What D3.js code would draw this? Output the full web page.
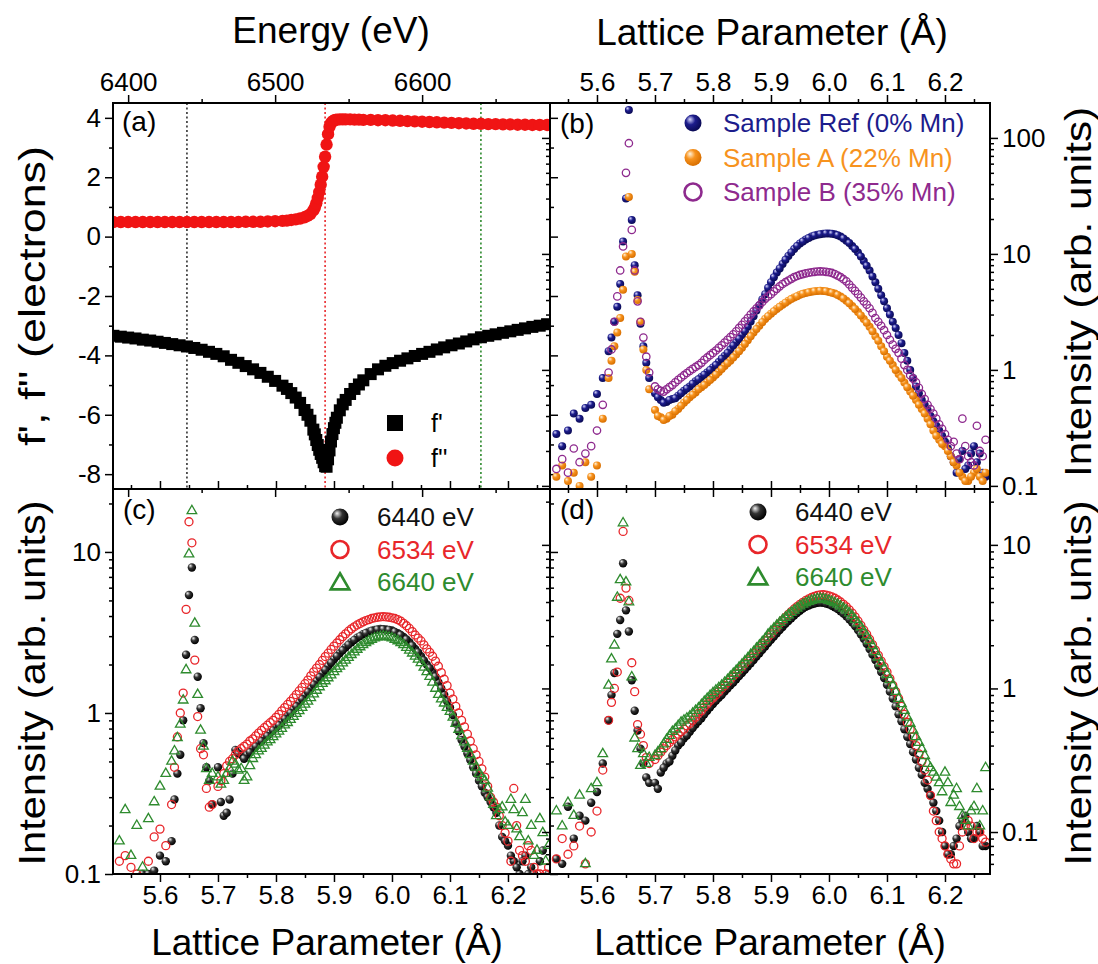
<!DOCTYPE html>
<html lang="en">
<head>
<meta charset="UTF-8">
<title>Anomalous diffraction panels</title>
<script src="https://d3js.org/d3.v7.min.js"></script>
<style>
  body { margin: 0; background: #fff; }
</style>
</head>
<body>
<div id="chart"></div>
<script>
// ---------- data ----------
// (a) anomalous scattering factors vs energy
const energy = [6390,6395,6400,6405,6410,6415,6420,6425,6430,6435,6440,6445,6450,6455,6460,6465,6470,6475,6480,6485,6490,6495,6500,6505,
  6508,6511,6514,6517,6520,6522,6524,6526,6527,6528,6529,6530,6531,6532,6533,6534,6535,6536,6537,6538,6539,6540,6541,6542,
  6544,6546,6548,6551,6554,6557,6560,
  6565,6570,6575,6580,6585,6590,6595,6600,6605,6610,6615,6620,6625,6630,6635,6640,6645,6650,6655,6660,6665,6670,6675,6680,6685];
const fPrime = [-3.34,-3.37,-3.40,-3.43,-3.47,-3.50,-3.54,-3.58,-3.62,-3.66,-3.70,-3.75,-3.81,-3.88,-3.95,-4.03,-4.15,-4.25,-4.36,-4.47,-4.59,-4.72,-4.86,-5.02,
  -5.13,-5.27,-5.42,-5.60,-5.84,-6.00,-6.20,-6.50,-6.66,-6.85,-7.02,-7.18,-7.32,-7.45,-7.60,-7.73,-7.75,-7.50,-7.20,-6.90,-6.65,-6.45,-6.27,-6.10,
  -5.85,-5.65,-5.50,-5.30,-5.13,-4.98,-4.84,
  -4.63,-4.47,-4.35,-4.26,-4.18,-4.10,-4.02,-3.95,-3.88,-3.80,-3.73,-3.66,-3.60,-3.53,-3.46,-3.39,-3.34,-3.29,-3.24,-3.19,-3.14,-3.09,-3.04,-3.00,-2.95];
const fDouble = [0.49,0.49,0.49,0.49,0.49,0.49,0.49,0.49,0.49,0.49,0.49,0.49,0.49,0.49,0.49,0.49,0.49,0.49,0.50,0.50,0.50,0.51,0.52,0.53,
  0.54,0.56,0.58,0.61,0.65,0.70,0.76,0.88,0.98,1.12,1.30,1.50,1.75,2.02,2.35,2.69,3.10,3.45,3.70,3.82,3.88,3.91,3.93,3.94,
  3.95,3.95,3.95,3.95,3.94,3.94,3.93,
  3.93,3.92,3.92,3.91,3.90,3.89,3.88,3.87,3.86,3.85,3.84,3.83,3.82,3.81,3.80,3.80,3.79,3.79,3.78,3.78,3.77,3.77,3.76,3.76,3.76];
const markerEnergies = [6440, 6534, 6640];

// (b)-(d) intensity vs lattice parameter, main grid
const latGrid = [5.53,5.54,5.55,5.56,5.57,5.58,5.59,5.60,5.61,5.62,
  5.625,5.63,5.635,5.64,5.645,5.65,5.655,5.66,5.665,5.67,5.675,5.68,5.685,5.69,
  5.70,5.71,5.72,5.73,5.74,5.75,5.76,5.77,5.78,5.79,
  5.80,5.81,5.82,5.83,5.84,5.85,5.86,5.87,5.88,5.89,
  5.90,5.91,5.92,5.93,5.94,5.95,5.96,5.97,5.98,5.99,
  6.00,6.01,6.02,6.03,6.04,6.05,6.06,6.07,6.08,6.09,
  6.10,6.11,6.12,6.13,6.14,6.15,6.16,6.17,6.18,6.19,
  6.20,6.21,6.22,6.23,6.24,6.25,6.26,6.27];
// in-between points of the broad peak
const latMid = [5.705,5.715,5.725,5.735,5.745,5.755,5.765,5.775,5.785,5.795,
  5.805,5.815,5.825,5.835,5.845,5.855,5.865,5.875,5.885,5.895,
  5.905,5.915,5.925,5.935,5.945,5.955,5.965,5.975,5.985,5.995,
  6.005,6.015,6.025,6.035,6.045,6.055,6.065,6.075,6.085,6.095,
  6.105,6.115,6.125,6.135,6.145,6.155,6.165,6.175,6.185,6.195,
  6.205,6.215,6.225,6.235,6.245,6.255,6.265];

const sampleRef = [0.28,0.22,0.30,0.42,0.38,0.47,0.50,0.62,0.85,1.45,
  1.9,2.6,3.5,5.5,12.8,30,174,19.6,8.0,4.4,2.5,1.6,1.15,0.85,
  0.63,0.55,0.53,0.56,0.60,0.66,0.72,0.80,0.87,0.95,
  1.05,1.17,1.32,1.50,1.72,2.00,2.35,2.90,3.60,4.50,
  5.7,6.9,8.2,9.6,11.0,12.3,13.3,14.1,14.6,14.9,
  15.0,14.8,14.1,13.0,11.7,10.3,8.7,7.2,5.7,4.4,
  3.4,2.6,2.0,1.4,1.0,0.72,0.55,0.45,0.36,0.30,
  0.24,0.18,0.13,0.20,0.15,0.22,0.19,0.12];
const sampleRefMid = [0.58,0.52,0.55,0.57,0.63,0.69,0.76,0.83,0.91,1.0,
  1.10,1.25,1.40,1.62,1.85,2.15,2.62,3.25,4.05,5.1,
  6.3,7.5,8.9,10.3,11.7,12.8,13.7,14.4,14.8,15.0,
  14.9,14.5,13.6,12.4,11.0,9.5,7.9,6.4,5.0,3.9,
  3.0,2.3,1.7,1.2,0.85,0.63,0.50,0.40,0.33,0.27,
  0.21,0.16,0.17,0.14,0.19,0.16,0.13];
const sampleA = [0.12,0.15,0.11,0.13,0.10,0.16,0.12,0.15,0.38,0.85,
  1.2,1.6,2.1,2.8,4.9,9.5,31,10,7.0,4.0,2.6,1.5,1.0,0.68,
  0.45,0.39,0.38,0.41,0.46,0.52,0.58,0.64,0.71,0.78,
  0.86,0.96,1.08,1.20,1.36,1.55,1.80,2.10,2.40,2.75,
  3.05,3.35,3.65,3.95,4.20,4.45,4.60,4.72,4.80,4.80,
  4.70,4.55,4.30,3.95,3.55,3.15,2.75,2.35,1.95,1.60,
  1.30,1.10,0.92,0.78,0.65,0.55,0.46,0.38,0.30,0.25,
  0.22,0.18,0.15,0.12,0.11,0.13,0.12,0.13];
const sampleAMid = [0.40,0.37,0.40,0.44,0.49,0.55,0.61,0.68,0.74,0.82,
  0.91,1.02,1.14,1.28,1.45,1.67,1.95,2.25,2.58,2.90,
  3.20,3.50,3.80,4.08,4.32,4.53,4.66,4.76,4.82,4.76,
  4.63,4.43,4.12,3.75,3.35,2.95,2.55,2.15,1.78,1.45,
  1.20,1.00,0.85,0.71,0.60,0.50,0.42,0.34,0.27,0.23,
  0.20,0.16,0.13,0.11,0.12,0.14,0.11];
const sampleB = [0.14,0.17,0.13,0.21,0.16,0.19,0.22,0.30,0.50,0.95,
  1.5,2.6,4.3,7.2,11.6,50,90,16.1,7.2,3.9,2.6,1.9,1.3,0.95,
  0.72,0.66,0.68,0.74,0.82,0.90,0.98,1.06,1.15,1.28,
  1.40,1.55,1.72,1.92,2.15,2.45,2.80,3.20,3.60,4.10,
  4.50,5.00,5.50,5.90,6.30,6.60,6.80,6.95,7.05,7.05,
  6.95,6.70,6.30,5.80,5.10,4.50,3.90,3.40,2.80,2.40,
  2.00,1.65,1.40,1.10,0.90,0.78,0.62,0.50,0.42,0.34,
  0.28,0.22,0.19,0.38,0.18,0.15,0.20,0.25];
const sampleBMid = [0.68,0.65,0.71,0.78,0.86,0.94,1.02,1.10,1.22,1.34,
  1.47,1.63,1.82,2.03,2.30,2.62,3.00,3.40,3.85,4.30,
  4.75,5.25,5.70,6.10,6.45,6.70,6.88,7.00,7.08,7.00,
  6.85,6.50,6.05,5.45,4.80,4.20,3.65,3.10,2.60,2.20,
  1.82,1.52,1.25,1.00,0.84,0.70,0.56,0.46,0.38,0.31,
  0.25,0.24,0.17,0.22,0.16,0.33,0.18];

const c6440 = [0.09,0.085,0.095,0.09,0.10,0.10,0.105,0.13,0.12,0.16,
  0.29,0.42,0.55,0.90,2.3,5.4,8.0,2.84,1.68,1.07,0.65,0.46,0.38,0.27,
  0.46,0.23,0.29,0.59,0.55,0.55,0.60,0.65,0.70,0.75,
  0.81,0.88,0.96,1.05,1.16,1.28,1.42,1.58,1.76,1.95,
  2.15,2.35,2.55,2.75,2.93,3.08,3.20,3.28,3.32,3.30,
  3.25,3.13,2.97,2.75,2.50,2.25,2.00,1.80,1.55,1.30,
  1.08,0.86,0.68,0.56,0.46,0.38,0.32,0.28,0.24,0.17,
  0.15,0.12,0.10,0.13,0.11,0.09,0.14,0.10];
const c6440Mid = [0.28,0.24,0.42,0.56,0.52,0.57,0.62,0.67,0.72,0.78,
  0.84,0.92,1.0,1.10,1.22,1.35,1.50,1.67,1.85,2.05,
  2.25,2.45,2.65,2.84,3.0,3.14,3.24,3.30,3.31,3.28,
  3.19,3.05,2.86,2.62,2.38,2.12,1.90,1.68,1.42,1.18,
  0.97,0.77,0.62,0.51,0.42,0.35,0.30,0.26,0.20,0.16,
  0.13,0.11,0.12,0.10,0.10,0.12,0.09];
const c6534 = [0.12,0.13,0.11,0.10,0.09,0.12,0.17,0.19,0.15,0.27,
  0.46,0.71,1.0,1.33,4.4,15.4,11.4,2.13,0.95,0.60,0.55,0.34,0.26,0.27,
  0.35,0.42,0.50,0.55,0.60,0.64,0.69,0.75,0.81,0.87,
  0.94,1.03,1.13,1.24,1.37,1.52,1.70,1.90,2.12,2.35,
  2.60,2.85,3.10,3.33,3.52,3.68,3.80,3.90,3.95,3.95,
  3.90,3.80,3.60,3.35,3.05,2.80,2.50,2.25,1.95,1.62,
  1.33,1.10,0.90,0.74,0.60,0.50,0.40,0.30,0.26,0.20,
  0.16,0.34,0.14,0.12,0.14,0.10,0.09,0.11];
const c6534Mid = [0.38,0.47,0.52,0.58,0.62,0.67,0.72,0.78,0.84,0.90,
  0.98,1.08,1.18,1.30,1.44,1.60,1.80,2.0,2.24,2.48,
  2.72,2.98,3.22,3.43,3.60,3.75,3.86,3.93,3.97,3.93,
  3.86,3.72,3.48,3.20,2.92,2.65,2.38,2.10,1.78,1.48,
  1.22,1.0,0.82,0.67,0.55,0.45,0.35,0.28,0.23,0.18,
  0.12,0.20,0.13,0.15,0.11,0.10,0.10];
const c6640 = [0.16,0.25,0.13,0.20,0.11,0.22,0.28,0.35,0.42,0.50,
  0.58,0.70,0.85,1.2,1.85,9.7,18,3.6,1.3,0.78,0.62,0.45,0.38,0.42,
  0.40,0.38,0.45,0.48,0.45,0.40,0.52,0.58,0.63,0.68,
  0.74,0.80,0.87,0.95,1.03,1.13,1.24,1.38,1.52,1.65,
  1.80,1.95,2.12,2.30,2.48,2.65,2.80,2.92,2.98,2.98,
  2.92,2.80,2.65,2.45,2.25,2.05,1.80,1.55,1.30,1.15,
  1.02,0.86,0.72,0.60,0.50,0.42,0.38,0.30,0.23,0.26,
  0.20,0.25,0.17,0.29,0.20,0.14,0.18,0.15];
const c6640Mid = [0.36,0.42,0.50,0.44,0.38,0.47,0.55,0.60,0.66,0.71,
  0.77,0.84,0.91,0.99,1.08,1.18,1.31,1.45,1.58,1.72,
  1.88,2.04,2.21,2.39,2.57,2.73,2.86,2.95,3.0,2.95,
  2.86,2.73,2.55,2.35,2.15,1.92,1.68,1.42,1.22,1.08,
  0.94,0.79,0.66,0.55,0.46,0.40,0.34,0.27,0.25,0.21,
  0.29,0.19,0.24,0.16,0.13,0.22,0.12];

const d6440 = [0.065,0.06,0.15,0.09,0.13,0.12,0.16,0.19,0.30,0.60,
  0.90,1.28,2.4,3.0,7.45,3.5,2.49,1.14,0.70,0.51,0.38,0.30,0.24,0.22,
  0.22,0.26,0.30,0.34,0.40,0.45,0.50,0.56,0.62,0.70,
  0.78,0.86,0.95,1.05,1.16,1.28,1.42,1.58,1.76,1.96,
  2.18,2.42,2.68,2.95,3.22,3.48,3.70,3.85,3.95,3.95,
  3.85,3.68,3.45,3.18,2.88,2.55,2.22,1.88,1.58,1.30,
  1.06,0.85,0.66,0.52,0.41,0.32,0.25,0.20,0.16,0.12,
  0.08,0.07,0.09,0.12,0.10,0.09,0.10,0.08];
const d6440Mid = [0.20,0.28,0.31,0.37,0.42,0.47,0.53,0.59,0.66,0.74,
  0.82,0.90,1.0,1.10,1.22,1.35,1.50,1.67,1.86,2.07,
  2.30,2.55,2.82,3.08,3.35,3.60,3.78,3.90,3.96,3.90,
  3.77,3.57,3.32,3.03,2.72,2.38,2.05,1.72,1.44,1.18,
  0.95,0.75,0.59,0.46,0.36,0.28,0.22,0.18,0.14,0.10,
  0.07,0.08,0.11,0.13,0.09,0.11,0.08];
const d6534 = [0.065,0.09,0.07,0.08,0.11,0.06,0.10,0.14,0.27,0.60,
  0.80,1.0,1.3,4.25,12.4,5.0,4.1,1.51,0.95,0.56,0.48,0.40,0.33,0.30,
  0.32,0.36,0.40,0.44,0.48,0.52,0.57,0.63,0.70,0.78,
  0.86,0.95,1.05,1.16,1.28,1.42,1.58,1.75,1.95,2.16,
  2.40,2.68,2.98,3.28,3.58,3.85,4.10,4.30,4.45,4.50,
  4.42,4.25,4.00,3.70,3.35,2.95,2.55,2.20,1.85,1.55,
  1.30,1.05,0.85,0.66,0.52,0.40,0.31,0.23,0.14,0.10,
  0.08,0.065,0.06,0.10,0.12,0.09,0.10,0.085];
const d6534Mid = [0.34,0.38,0.42,0.46,0.50,0.55,0.60,0.67,0.74,0.82,
  0.90,1.0,1.10,1.22,1.35,1.50,1.66,1.85,2.05,2.28,
  2.54,2.83,3.13,3.43,3.72,3.98,4.20,4.38,4.48,4.47,
  4.34,4.13,3.85,3.53,3.15,2.75,2.38,2.02,1.70,1.42,
  1.17,0.95,0.75,0.58,0.46,0.35,0.27,0.18,0.12,0.09,
  0.07,0.06,0.08,0.11,0.11,0.10,0.09];
const d6640 = [0.14,0.11,0.16,0.13,0.18,0.06,0.20,0.22,0.35,1.05,
  1.6,2.0,4.3,5.7,14.2,5.5,4.0,1.2,0.45,0.38,0.29,0.35,0.30,0.33,
  0.34,0.38,0.44,0.50,0.55,0.60,0.64,0.70,0.77,0.85,
  0.93,1.01,1.10,1.21,1.33,1.47,1.63,1.80,2.00,2.22,
  2.50,2.75,3.00,3.25,3.50,3.75,3.95,4.10,4.20,4.20,
  4.10,3.95,3.75,3.50,3.20,2.85,2.50,2.15,1.80,1.50,
  1.25,1.05,0.85,0.70,0.57,0.46,0.38,0.30,0.26,0.22,
  0.26,0.16,0.20,0.13,0.11,0.15,0.11,0.28];
const d6640Mid = [0.36,0.41,0.47,0.52,0.58,0.62,0.67,0.73,0.81,0.89,
  0.97,1.05,1.15,1.27,1.40,1.55,1.72,1.90,2.11,2.38,
  2.62,2.88,3.12,3.38,3.62,3.85,4.02,4.15,4.22,4.15,
  4.02,3.85,3.62,3.35,3.02,2.68,2.32,1.98,1.65,1.38,
  1.15,0.95,0.78,0.63,0.51,0.42,0.34,0.28,0.24,0.19,
  0.22,0.18,0.15,0.12,0.14,0.20,0.14];

// ticks and labels
const energyTicks = [6400, 6500, 6600];
const energyMinor = [6450, 6550, 6650];
const fTicks = [-8, -6, -4, -2, 0, 2, 4];
const fMinor = [-7, -5, -3, -1, 1, 3];
const latTicks = [5.6, 5.7, 5.8, 5.9, 6.0, 6.1, 6.2];
const latMinor = [5.55, 5.65, 5.75, 5.85, 5.95, 6.05, 6.15, 6.25];
const logTicks = [0.1, 1, 10, 100];
const sampleNames = ["Sample Ref (0% Mn)", "Sample A (22% Mn)", "Sample B (35% Mn)"];
const energyNames = ["6440 eV", "6534 eV", "6640 eV"];

// ---------- layout ----------
const FONT = "'Liberation Sans', Arial, sans-serif";
const navy = "#1c1c8c", orange = "#f7931e", purple = "#8e2a8e";
const red = "#e8262a", green = "#2e8b2e";
const pxPerA = 580;

const panels = {
  a: { x: 113, y: 103, w: 437, h: 386 },
  b: { x: 550, y: 103, w: 440, h: 386 },
  c: { x: 113, y: 489, w: 437, h: 385 },
  d: { x: 550, y: 489, w: 440, h: 385 }
};

const svg = d3.select("#chart").append("svg")
  .attr("width", 1098).attr("height", 964)
  .style("font-family", FONT);

const defs = svg.append("defs");
function ball(id, hi, mid, lo) {
  const gr = defs.append("radialGradient").attr("id", id)
    .attr("cx", "40%").attr("cy", "38%").attr("r", "62%")
    .attr("fx", "32%").attr("fy", "28%");
  gr.append("stop").attr("offset", "0%").attr("stop-color", hi);
  gr.append("stop").attr("offset", "45%").attr("stop-color", mid);
  gr.append("stop").attr("offset", "100%").attr("stop-color", lo);
}
ball("ballNavy", "#d8d8ff", navy, "#0a0a55");
ball("ballOrange", "#fff3dd", orange, "#d86f00");
ball("ballBlack", "#f4f4f4", "#333", "#000");

Object.entries(panels).forEach(([k, p]) => {
  defs.append("clipPath").attr("id", "clip-" + k)
    .append("rect").attr("width", p.w).attr("height", p.h);
});

function panelGroup(k) {
  const p = panels[k];
  return svg.append("g").attr("transform", `translate(${p.x},${p.y})`);
}

// draws major + minor ticks on one side
function sideAxis(g, p, side, scale, majors, minors, fmt) {
  const make = { top: d3.axisTop, bottom: d3.axisBottom, left: d3.axisLeft, right: d3.axisRight }[side];
  const t = side === "bottom" ? `translate(0,${p.h})` : side === "right" ? `translate(${p.w},0)` : null;
  [[minors, 4, null], [majors, 8, fmt]].forEach(([vals, len, f]) => {
    const ax = make(scale).tickValues(vals).tickSizeInner(len).tickSizeOuter(0).tickPadding(4)
      .tickFormat(f || (() => ""));
    const a = g.append("g").attr("transform", t).call(ax);
    a.select(".domain").remove();
    a.selectAll("line").attr("stroke", "#000").attr("stroke-width", 1.5);
    a.selectAll("text").attr("font-size", 26).attr("font-family", FONT).attr("fill", "#000");
  });
}

function logMinors(scale) {
  const [lo, hi] = scale.domain();
  const out = [];
  for (let e = -2; e <= 2; e++) {
    for (let m = 2; m <= 9; m++) {
      const v = m * Math.pow(10, e);
      if (v > lo && v < hi) out.push(v);
    }
  }
  return out;
}

const latFmt = d3.format(".1f");
const logFmt = d => d < 1 ? "0.1" : String(d);

function frame(g, p) {
  g.append("rect").attr("width", p.w).attr("height", p.h)
    .attr("fill", "none").attr("stroke", "#000").attr("stroke-width", 2);
}

function label(g, txt, x, y) {
  g.append("text").attr("x", x).attr("y", y).attr("font-size", 28).text(txt);
}

// ---------- panel (a) ----------
{
  const p = panels.a;
  const g = panelGroup("a");
  const x = d3.scaleLinear().domain([6389.7, 6687]).range([0, p.w]);
  const y = d3.scaleLinear().domain([-8.5, 4.5]).range([p.h, 0]);
  const body = g.append("g").attr("clip-path", "url(#clip-a)");

  body.selectAll("line.mark").data(markerEnergies).join("line")
    .attr("class", "mark")
    .attr("x1", d => x(d)).attr("x2", d => x(d))
    .attr("y1", 0).attr("y2", p.h)
    .attr("stroke", (d, i) => ["#333", red, green][i])
    .attr("stroke-width", 1.6).attr("stroke-dasharray", "2,2.5");

  const pts = energy.map((e, i) => ({ e, fp: fPrime[i], fpp: fDouble[i] }));
  body.selectAll("rect.fp").data(pts).join("rect")
    .attr("class", "fp")
    .attr("x", d => x(d.e) - 6).attr("y", d => y(d.fp) - 6)
    .attr("width", 12).attr("height", 12).attr("fill", "#000");
  body.selectAll("circle.fpp").data(pts).join("circle")
    .attr("class", "fpp")
    .attr("cx", d => x(d.e)).attr("cy", d => y(d.fpp)).attr("r", 6.2)
    .attr("fill", "#f01414");

  sideAxis(g, p, "top", x, energyTicks, energyMinor, d => String(d));
  sideAxis(g, p, "bottom", x, energyTicks, energyMinor, null);
  sideAxis(g, p, "left", y, fTicks, fMinor, d => String(d));
  sideAxis(g, p, "right", y, fTicks, fMinor, null);
  frame(g, p);
  label(g, "(a)", 9, 28);

  // legend
  g.append("rect").attr("x", 274).attr("y", 312).attr("width", 16).attr("height", 16).attr("fill", "#000");
  g.append("circle").attr("cx", 282).attr("cy", 355).attr("r", 8.5).attr("fill", "#f01414");
  g.append("text").attr("x", 318).attr("y", 329).attr("font-size", 25).text("f'");
  g.append("text").attr("x", 318).attr("y", 364).attr("font-size", 25).text("f''");
}

// ---------- intensity panels ----------
function intensityPanel(k, yDomain, series, names, colors, legend, yLabelSide, xLabelSide, tag) {
  const p = panels[k];
  const g = panelGroup(k);
  const x = d3.scaleLinear().domain([5.519, 5.519 + p.w / pxPerA]).range([0, p.w]);
  const y = d3.scaleLog().domain(yDomain).range([p.h, 0]);
  const body = g.append("g").attr("clip-path", `url(#clip-${k})`);

  series.forEach(s => {
    const pts = latGrid.map((l, i) => ({ l, v: s.values[i] }))
      .concat(latMid.map((l, i) => ({ l, v: s.mid[i] })));
    if (s.kind === "tri") {
      body.selectAll(null).data(pts).join("path")
        .attr("transform", d => `translate(${x(d.l)},${y(d.v)})`)
        .attr("d", d3.symbol(d3.symbolTriangle, 40)())
        .attr("fill", "none").attr("stroke", s.color).attr("stroke-width", 1.3);
    } else {
      body.selectAll(null).data(pts).join("circle")
        .attr("cx", d => x(d.l)).attr("cy", d => y(d.v)).attr("r", s.r)
        .attr("fill", s.kind === "open" ? "none" : s.fill)
        .attr("stroke", s.kind === "open" ? s.color : "none")
        .attr("stroke-width", 1.3);
    }
  });

  const minors = logMinors(y);
  const majors = logTicks.filter(v => v >= yDomain[0] && v <= yDomain[1]);
  sideAxis(g, p, "top", x, latTicks, latMinor, xLabelSide === "top" ? latFmt : null);
  sideAxis(g, p, "bottom", x, latTicks, latMinor, xLabelSide === "bottom" ? latFmt : null);
  sideAxis(g, p, "left", y, majors, minors, yLabelSide === "left" ? logFmt : null);
  sideAxis(g, p, "right", y, majors, minors, yLabelSide === "right" ? logFmt : null);
  frame(g, p);
  label(g, tag, 10, 30);

  // legend
  series.forEach((s, i) => {
    const cy = legend.y + i * legend.dy;
    if (s.kind === "tri") {
      g.append("path").attr("transform", `translate(${legend.mx},${cy + 2})`)
        .attr("d", d3.symbol(d3.symbolTriangle, 150)())
        .attr("fill", "none").attr("stroke", s.color).attr("stroke-width", 2.6);
    } else {
      g.append("circle").attr("cx", legend.mx).attr("cy", cy).attr("r", 8.5)
        .attr("fill", s.kind === "open" ? "none" : s.fill)
        .attr("stroke", s.kind === "open" ? s.color : "none").attr("stroke-width", 2.6);
    }
    g.append("text").attr("x", legend.tx).attr("y", cy + 9).attr("font-size", 26)
      .attr("fill", colors[i]).text(names[i]);
  });
}

intensityPanel("b", [0.094, 200], [
  { values: sampleRef, mid: sampleRefMid, kind: "ball", fill: "url(#ballNavy)", r: 4 },
  { values: sampleA, mid: sampleAMid, kind: "ball", fill: "url(#ballOrange)", r: 4 },
  { values: sampleB, mid: sampleBMid, kind: "open", color: purple, r: 3.7 }
], sampleNames, [navy, orange, purple], { mx: 143, tx: 173, y: 20, dy: 34.5 }, "right", "top", "(b)");

const energySeries = (vals, mids) => [
  { values: vals[0], mid: mids[0], kind: "ball", fill: "url(#ballBlack)", r: 4.2 },
  { values: vals[1], mid: mids[1], kind: "open", color: red, r: 4 },
  { values: vals[2], mid: mids[2], kind: "tri", color: green }
];

intensityPanel("c", [0.1, 24.6], energySeries([c6440, c6534, c6640], [c6440Mid, c6534Mid, c6640Mid]), energyNames,
  ["#111", red, green], { mx: 227, tx: 264, y: 28, dy: 32.5 }, "left", "bottom", "(c)");

intensityPanel("d", [0.051, 24.5], energySeries([d6440, d6534, d6640], [d6440Mid, d6534Mid, d6640Mid]), energyNames,
  ["#111", red, green], { mx: 208, tx: 245, y: 23, dy: 32.5 }, "right", "bottom", "(d)");

// ---------- axis titles ----------
// rotated titles are stretched along the axis as in the original figure
const titles = [
  { t: "Energy (eV)", x: 331, y: 43, r: 0, len: null },
  { t: "Lattice Parameter (Å)", x: 772, y: 45, r: 0, len: null },
  { t: "Lattice Parameter (Å)", x: 327, y: 955, r: 0, len: null },
  { t: "Lattice Parameter (Å)", x: 770, y: 955, r: 0, len: null },
  { t: "f', f'' (electrons)", x: 45, y: 296, r: -90, len: 300 },
  { t: "Intensity (arb. units)", x: 45, y: 683, r: -90, len: 365 },
  { t: "Intensity (arb. units)", x: 1091, y: 292, r: -90, len: 370 },
  { t: "Intensity (arb. units)", x: 1091, y: 683, r: -90, len: 365 }
];
svg.selectAll("text.title").data(titles).join("text")
  .attr("class", "title")
  .attr("transform", d => `translate(${d.x},${d.y}) rotate(${d.r})`)
  .attr("text-anchor", "middle")
  .attr("font-size", 37)
  .attr("textLength", d => d.len)
  .attr("lengthAdjust", d => d.len ? "spacingAndGlyphs" : null)
  .text(d => d.t);
</script>
</body>
</html>
